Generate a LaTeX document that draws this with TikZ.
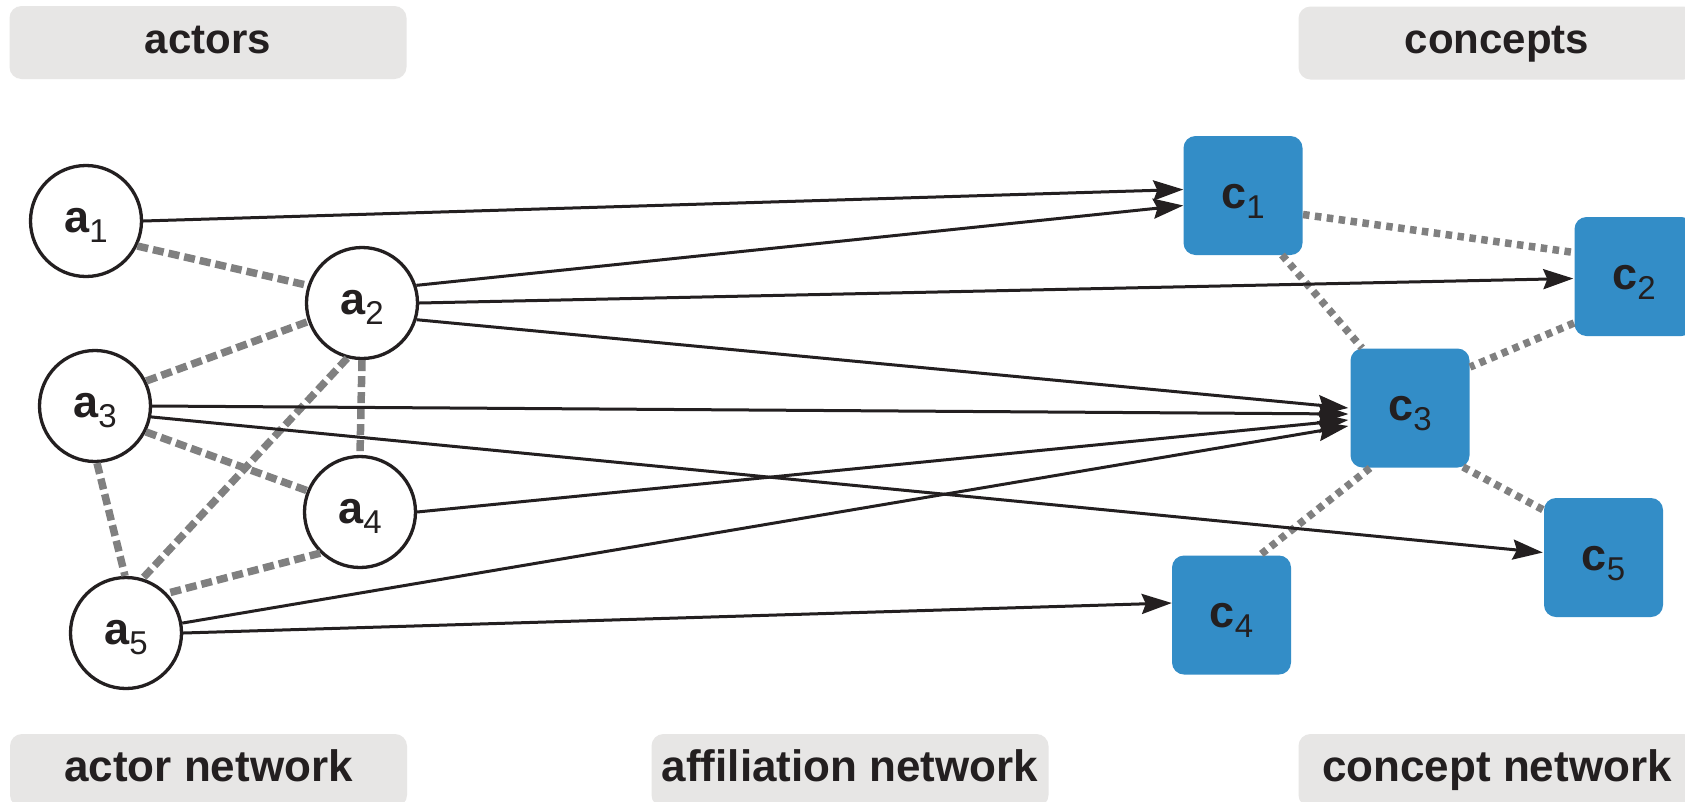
\documentclass[tikz,border=0pt]{standalone}
\usepackage{fontspec}
\setmainfont{Liberation Sans}
\usetikzlibrary{calc,arrows.meta}
\definecolor{cblue}{RGB}{51,141,199}
\definecolor{dgray}{RGB}{128,128,128}
\definecolor{boxgray}{RGB}{231,230,229}
\definecolor{ink}{RGB}{35,31,32}
\newcommand{\albl}[2]{{\fontsize{45}{45}\selectfont\bfseries #1}\raisebox{-10pt}{\fontsize{33}{33}\selectfont #2}}
\begin{document}
\begin{tikzpicture}[x=1pt,y=-1pt,
  actor/.style={circle,draw=ink,line width=3.3pt,fill=white,minimum size=111pt,inner sep=0pt,text=ink,text height=33pt,text depth=11pt},
  concept/.style={rectangle,rounded corners=12pt,fill=cblue,minimum size=119pt,inner sep=0pt,text=ink,text height=36pt,text depth=11pt},
  tag/.style={rectangle,rounded corners=12pt,fill=boxgray,minimum width=397pt,minimum height=73pt,inner sep=0pt,text=ink,text height=30pt,text depth=9pt},
  toptag/.style={tag,font=\fontsize{42}{48}\selectfont\bfseries},
  bottag/.style={tag,font=\fontsize{44}{50}\selectfont\bfseries},
  arr/.style={draw=ink,line width=3pt,-{Stealth[length=30pt,width=20pt,inset=4pt]}},
  adash/.style={draw=dgray,line width=7.5pt,dash pattern=on 11pt off 5pt},
  cdash/.style={draw=dgray,line width=7.5pt,dash pattern=on 6.5pt off 5.5pt},
]
\useasboundingbox (0,0) rectangle (1685,801);
\fill[white] (0,0) rectangle (1685,801);
\clip (0,0) rectangle (1685,801);

% label boxes
\node[toptag] (tactors) at (208,42.5) {actors};
\node[toptag] (tconcepts) at (1497,43) {concepts};
\node[bottag] (tactnet) at (208.5,770.5) {actor network};
\node[bottag] (taffnet) at (850,770.5) {affiliation network};
\node[bottag] (tconnet) at (1497,770.5) {concept network};

% actors
\node[actor] (a1) at (86,221) {\albl{a}{1}};
\node[actor] (a2) at (362,303) {\albl{a}{2}};
\node[actor] (a3) at (95,406) {\albl{a}{3}};
\node[actor] (a4) at (360,512) {\albl{a}{4}};
\node[actor] (a5) at (126,633) {\albl{a}{5}};

% concepts
\node[concept] (c1) at (1243,195.5) {\albl{c}{1}};
\node[concept] (c2) at (1634,276.5) {\albl{c}{2}};
\node[concept] (c3) at (1410,408) {\albl{c}{3}};
\node[concept] (c4) at (1231.5,615) {\albl{c}{4}};
\node[concept] (c5) at (1603.5,557.5) {\albl{c}{5}};

% actor network
\draw[adash] (a1.-26) -- (a2.162);
\draw[adash] (a3.26) -- (a2.199);
\draw[adash] (a2.-90) -- (a4.90);
\draw[adash] (a2.-105) -- (a5.73);
\draw[adash] (a3.-27) -- (a4.158);
\draw[adash] (a3.-88) -- (a5.91);
\draw[adash] (a4.226) -- (a5.44);

% concept network
\draw[cdash] ($(c1.center)+(60,19)$) -- ($(c2.center)+(-60,-24)$);
\draw[cdash] ($(c1.center)+(39,59.5)$) -- ($(c3.center)+(-48,-60)$);
\draw[cdash] ($(c2.center)+(-60,46.5)$) -- ($(c3.center)+(60,-41)$);
\draw[cdash] ($(c3.center)+(-40,60)$) -- ($(c4.center)+(28.5,-60)$);
\draw[cdash] ($(c3.center)+(53,59)$) -- ($(c5.center)+(-60,-47.5)$);

% affiliation network
\draw[arr] (a1.0) -- ($(c1.west)+(0,-6)$);
\draw[arr] (a2.18) -- ($(c1.west)+(0,10)$);
\draw[arr] (a2.0) -- ($(c2.west)+(-1,2)$);
\draw[arr] (a2.-17) -- ($(c3.west)+(-2,0)$);
\draw[arr] (a3.0) -- ($(c3.west)+(-2,6)$);
\draw[arr] (a4.0) -- ($(c3.west)+(-2,12)$);
\draw[arr] (a5.10) -- ($(c3.west)+(-2,18)$);
\draw[arr] (a3.-11) -- ($(c5.west)+(-1,-5)$);
\draw[arr] (a5.0) -- ($(c4.west)+(0,-12)$);
\end{tikzpicture}
\end{document}
